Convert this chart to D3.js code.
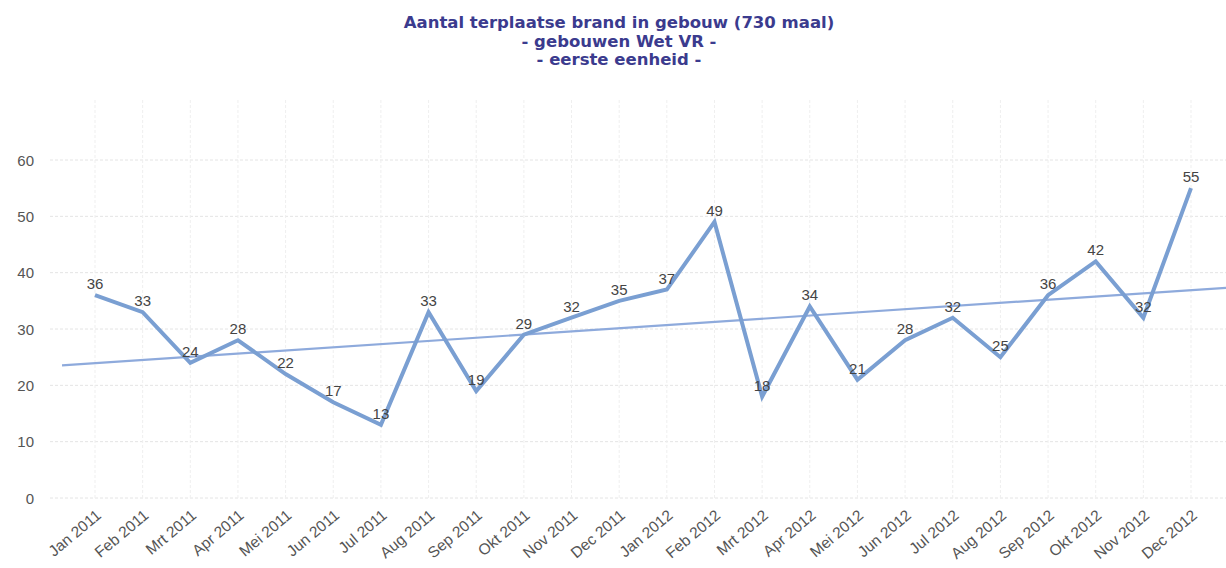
<!DOCTYPE html>
<html><head><meta charset="utf-8">
<script src="https://cdn.jsdelivr.net/npm/d3@7"></script>
<style>body{margin:0;background:#fff}svg{display:block}</style>
</head><body>
<script>
const months = ["Jan 2011","Feb 2011","Mrt 2011","Apr 2011","Mei 2011","Jun 2011","Jul 2011","Aug 2011","Sep 2011","Okt 2011","Nov 2011","Dec 2011","Jan 2012","Feb 2012","Mrt 2012","Apr 2012","Mei 2012","Jun 2012","Jul 2012","Aug 2012","Sep 2012","Okt 2012","Nov 2012","Dec 2012"];
const values = [36,33,24,28,22,17,13,33,19,29,32,35,37,49,18,34,21,28,32,25,36,42,32,55];
const yTicks = [0,10,20,30,40,50,60];
const titleLines = ["Aantal terplaatse brand in gebouw (730 maal)","- gebouwen Wet VR -","- eerste eenheid -"];

const W=1226,H=568;
const svg=d3.select("body").append("svg").attr("width",W).attr("height",H);
const x=d3.scalePoint().domain(months).range([95,1191]);
const y=d3.scaleLinear().domain([0,60]).range([498,160]);
const FONT="Liberation Sans, Arial, sans-serif";

// grid
const g=svg.append("g");
g.selectAll("line.h").data(yTicks).join("line")
 .attr("x1",50).attr("x2",W).attr("y1",d=>y(d)).attr("y2",d=>y(d))
 .attr("stroke","#e4e4e4").attr("stroke-dasharray","3,2").attr("stroke-width",1);
g.selectAll("line.v").data(months).join("line")
 .attr("x1",d=>x(d)).attr("x2",d=>x(d)).attr("y1",100).attr("y2",498)
 .attr("stroke","#efefef").attr("stroke-dasharray","3,2").attr("stroke-width",1);

// y axis
const ya=svg.append("g").attr("transform","translate(34,0)")
 .call(d3.axisLeft(y).tickValues(yTicks).tickSize(0).tickPadding(0));
ya.select(".domain").remove();
ya.selectAll("text").attr("font-family",FONT).attr("font-size",15).attr("fill","#555").attr("dy","0.35em");

// x axis
const xa=svg.append("g").attr("transform","translate(0,0)")
 .call(d3.axisBottom(x).tickSize(0).tickPadding(0));
xa.select(".domain").remove();
xa.selectAll(".tick").attr("transform",null);
xa.selectAll(".tick text").attr("font-family",FONT).attr("font-size",15.5).attr("fill","#555")
 .attr("text-anchor","end").attr("y",0).attr("dy",0)
 .attr("transform",d=>`translate(${x(d)+7},517) rotate(-40)`);

// trend line (least squares)
const n=values.length, xs=d3.range(n);
const mx=d3.mean(xs), my=d3.mean(values);
const slope=d3.sum(xs,i=>(i-mx)*(values[i]-my))/d3.sum(xs,i=>(i-mx)*(i-mx));
const icpt=my-slope*mx;
const xi=d3.scaleLinear().domain([0,n-1]).range([x(months[0]),x(months[n-1])]);
const t0=xi.invert(62), t1=xi.invert(W);
svg.append("line").attr("x1",62).attr("x2",W)
 .attr("y1",y(icpt+slope*t0)).attr("y2",y(icpt+slope*t1))
 .attr("stroke","#8eaadc").attr("stroke-width",2.2);

// data line
const line=d3.line().x((d,i)=>x(months[i])).y(d=>y(d));
svg.append("path").datum(values).attr("d",line).attr("fill","none")
 .attr("stroke","#7a9fd2").attr("stroke-width",4).attr("stroke-linejoin","miter");

// labels
svg.selectAll("text.lbl").data(values).join("text").attr("class","lbl")
 .attr("x",(d,i)=>x(months[i])).attr("y",d=>y(d)-6)
 .attr("text-anchor","middle").attr("font-family",FONT)
 .attr("font-size",15).attr("fill","#444").text(d=>d);

// title
svg.selectAll("text.title").data(titleLines).join("text").attr("class","title")
 .attr("x",619).attr("y",(d,i)=>28+i*18.5).attr("text-anchor","middle")
 .attr("font-family","DejaVu Sans, Verdana, sans-serif").attr("font-weight","bold")
 .attr("font-size",16.5).attr("fill","#3b3b8e").text(d=>d);
</script>
</body></html>
